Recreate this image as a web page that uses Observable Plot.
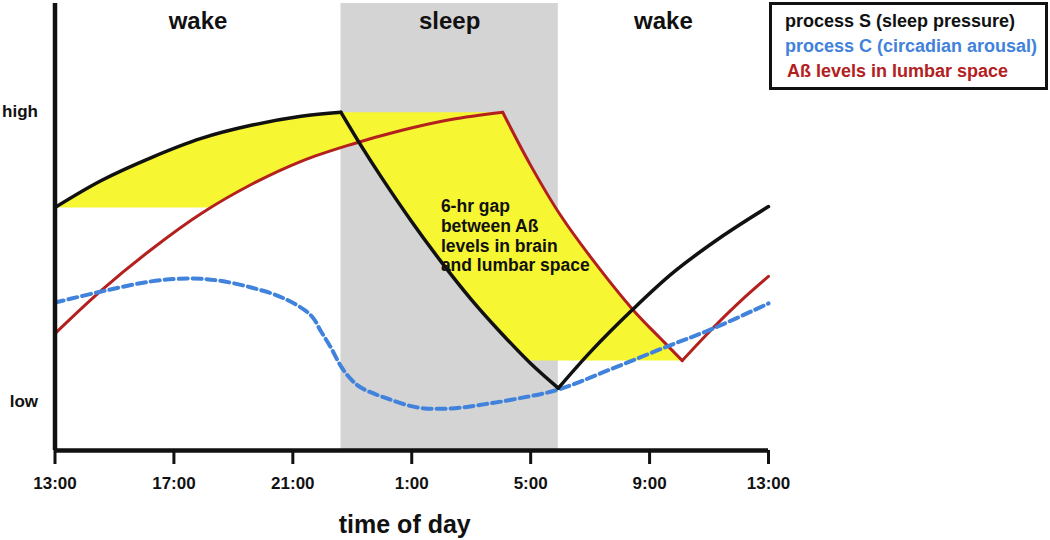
<!DOCTYPE html>
<html><head><meta charset="utf-8">
<script src="https://cdn.jsdelivr.net/npm/d3@7"></script>
<script src="https://cdn.jsdelivr.net/npm/@observablehq/plot@0.6"></script>
<style>
body{margin:0;background:#fff;font-family:"Liberation Sans",Arial,sans-serif;}
#wrap{position:relative;width:1050px;height:540px;overflow:hidden;}
#legend{position:absolute;left:769px;top:2px;width:260px;height:78px;border:3px solid #111;padding:4px 0 0 13px;background:#fff;}
#legend div{font-size:18px;font-weight:bold;line-height:25px;white-space:nowrap;}
</style></head><body>
<div id="wrap"><div id="chart"></div><div id="legend"></div></div>
<script>
// ---- axis / labels ----
const tickHours = [0, 4, 8, 12, 16, 20, 24];
const tickLabels = ["13:00", "17:00", "21:00", "1:00", "5:00", "9:00", "13:00"];
const levelValues = [0, 1];
const levelLabels = ["low", "high"];
const axisTitle = "time of day";
const phaseNames = ["wake", "sleep", "wake"];
const phaseStart = [0, 9.62, 16.93];
const phaseEnd = [9.62, 16.93, 24];
const seriesNames = ["process S (sleep pressure)", "process C (circadian arousal)", "A\u00df levels in lumbar space"];
const seriesColors = ["#111111", "#4182dc", "#b3201e"];
const gapNote = "6-hr gap\nbetween A\u00df\nlevels in brain\nand lumbar space";
const gapNoteAt = [12.98, 0.70];

// ---- process S (black) [hour since 13:00, level] ----
const sWake1 = [[0,0.669],[1.56,0.762],[3.24,0.841],[4.92,0.907],[6.60,0.952],[8.28,0.983],[9.62,0.997]];
const sSleep = [[9.62,0.997],[10.29,0.883],[10.96,0.776],[11.97,0.624],[12.98,0.483],[13.99,0.353],[14.99,0.238],[16.00,0.131],[16.93,0.046]];
const sWake2 = [[16.93,0.046],[18.02,0.172],[19.43,0.317],[20.80,0.445],[22.48,0.572],[24,0.672]];

// ---- A\u00df lumbar (red) ----
const abRise = [[0,0.234],[1.56,0.383],[3.24,0.524],[4.92,0.648],[6.60,0.748],[8.28,0.828],[9.96,0.886],[11.64,0.934],[13.32,0.972],[15.06,0.997]];
const abFall = [[15.06,0.997],[16.00,0.814],[17.01,0.641],[18.18,0.476],[19.46,0.314],[20.37,0.217],[21.10,0.141]];
const abRise2 = [[21.10,0.141],[22.15,0.255],[23.05,0.345],[24,0.431]];

// ---- process C (blue dashed) ----
const cCurve = [[0,0.341],[1.56,0.379],[3.24,0.414],[4.58,0.424],[5.49,0.417],[6.60,0.393],[7.71,0.355],[8.61,0.297],[8.95,0.241],[9.28,0.186],[9.62,0.121],[9.96,0.076],[10.29,0.048],[11.07,0.014],[12.21,-0.021],[13.31,-0.024],[14.42,-0.010],[15.56,0.010],[16.93,0.041],[18.59,0.107],[20.60,0.190],[22.15,0.252],[24,0.338]];

const yLow = -0.169, yHigh = 1.372;

const seg = (arr, id) => arr.map(([h, v]) => ({h, v, id}));
const blackData = [...seg(sWake1, "w1"), ...seg(sSleep, "sl"), ...seg(sWake2, "w2")];
const redData = [...seg(abRise, "r1"), ...seg(abFall, "r2"), ...seg(abRise2, "r3")];
const blueData = seg(cCurve, "c");
const phases = phaseNames.map((name, i) => ({name, s: phaseStart[i], e: phaseEnd[i]}));

// geometry helpers for the shaded gap (boundaries follow the curves)
function levelCross(poly, level) {
  for (let i = 0; i < poly.length - 1; i++) {
    const a = poly[i], b = poly[i + 1];
    if ((a[1] - level) * (b[1] - level) <= 0 && a[1] !== b[1]) {
      const t = (level - a[1]) / (b[1] - a[1]);
      return [a[0] + t * (b[0] - a[0]), level];
    }
  }
}
function polyCross(A, B) {
  for (let i = 0; i < A.length - 1; i++) for (let j = 0; j < B.length - 1; j++) {
    const [x1, y1] = A[i], [x2, y2] = A[i + 1], [x3, y3] = B[j], [x4, y4] = B[j + 1];
    const den = (x1 - x2) * (y3 - y4) - (y1 - y2) * (x3 - x4);
    if (!den) continue;
    const t = ((x1 - x3) * (y3 - y4) - (y1 - y3) * (x3 - x4)) / den;
    const u = -((x1 - x2) * (y1 - y3) - (y1 - y2) * (x1 - x3)) / den;
    if (t >= 0 && t <= 1 && u >= 0 && u <= 1) return [x1 + t * (x2 - x1), y1 + t * (y2 - y1)];
  }
}
const S0 = sWake1[0][1];
const peak = sWake1[sWake1.length - 1];
const L = abFall[abFall.length - 1][1];
const cross = polyCross(sSleep, abRise);
const redAtS0 = levelCross(abRise, S0);
const blackAtL = levelCross(sSleep, L);
const wakeGap = [
  ...sWake1,
  ...sSleep.filter(d => d[0] > peak[0] && d[0] < cross[0]),
  cross,
  ...abRise.filter(d => d[0] < cross[0] && d[0] > redAtS0[0]).reverse(),
  redAtS0,
  [0, S0]
];
const sleepGap = [
  [peak[0], peak[1]],
  [abFall[0][0], peak[1]],
  ...abFall.slice(1),
  blackAtL,
  ...sSleep.filter(d => d[1] > L).reverse()
];
const gapData = [...seg(wakeGap, "g1"), ...seg(sleepGap, "g2")];

const bold = {fontWeight: "bold"};
const chart = Plot.plot({
  width: 1050, height: 540,
  marginLeft: 54.5, marginRight: 282, marginTop: 3, marginBottom: 90,
  style: {fontFamily: "'Liberation Sans', Arial, sans-serif", color: "#111", background: "#fff"},
  x: {domain: [0, 24]},
  y: {domain: [yLow, yHigh]},
  marks: [
    Plot.rect(phases.filter(d => d.name === "sleep"), {x1: "s", x2: "e", fill: "#d4d4d4"}),
    Plot.line(gapData, {x: "h", y: "v", z: "id", fill: "#f6f632", stroke: "none", curve: "linear"}),
    Plot.text(phases, {x: d => (d.s + d.e) / 2, frameAnchor: "top", text: "name", fontSize: 24, ...bold, dy: 18, lineAnchor: "middle", fill: "#111"}),
    Plot.text([gapNote], {x: () => gapNoteAt[0], y: () => gapNoteAt[1], text: d => d, textAnchor: "start", lineAnchor: "top", fontSize: 17.5, ...bold, lineHeight: 1.12, fill: "#111"}),
    Plot.line(redData, {x: "h", y: "v", z: "id", stroke: seriesColors[2], strokeWidth: 3, curve: "catmull-rom", strokeLinecap: "round", strokeLinejoin: "round"}),
    Plot.line(blueData, {x: "h", y: "v", z: "id", stroke: seriesColors[1], strokeWidth: 4, strokeDasharray: "9,5", curve: "catmull-rom"}),
    Plot.line(blackData, {x: "h", y: "v", z: "id", stroke: seriesColors[0], strokeWidth: 3.5, curve: "catmull-rom", strokeLinecap: "round", strokeLinejoin: "round"}),
    Plot.ruleX([0], {stroke: "#111", strokeWidth: 4.5}),
    Plot.ruleY([yLow], {stroke: "#111", strokeWidth: 4.5}),
    Plot.axisX(tickHours, {tickFormat: d => tickLabels[tickHours.indexOf(d)], tickSize: 14, tickPadding: 12, fontSize: 17, ...bold, strokeWidth: 3, label: null}),
    Plot.axisY(levelValues, {tickFormat: d => levelLabels[levelValues.indexOf(d)], tickSize: 0, tickPadding: 17, fontSize: 17, ...bold, label: null}),
    Plot.text([axisTitle], {frameAnchor: "bottom", text: d => d, dy: 74, dx: -7, fontSize: 25, ...bold, lineAnchor: "middle", fill: "#111"})
  ]
});
document.getElementById("chart").appendChild(chart);

const legend = document.getElementById("legend");
seriesNames.forEach((name, i) => {
  const el = document.createElement("div");
  el.textContent = name;
  el.style.color = seriesColors[i];
  if (i === 2) el.style.paddingLeft = "2px";
  legend.appendChild(el);
});
</script>
</body></html>
